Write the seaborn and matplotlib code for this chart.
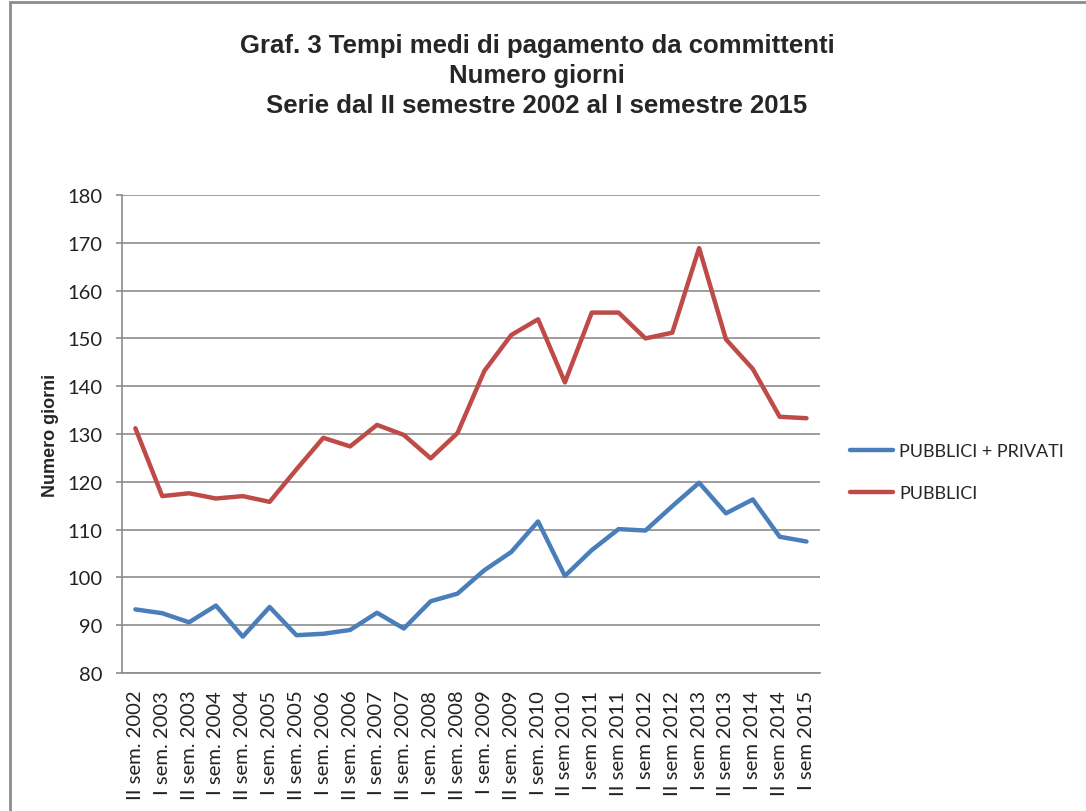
import matplotlib
matplotlib.use("Agg")
import matplotlib.pyplot as plt
import seaborn as sns
import pandas as pd
from matplotlib.patches import Rectangle

# Data
periods = ["II sem. 2002", "I sem. 2003", "II sem. 2003", "I sem. 2004", "II sem. 2004",
           "I sem. 2005", "II sem. 2005", "I sem. 2006", "II sem. 2006", "I sem. 2007",
           "II sem. 2007", "I sem. 2008", "II sem. 2008", "I sem. 2009", "II sem. 2009",
           "I sem. 2010", "II sem 2010", "I sem 2011", "II sem 2011", "I sem 2012",
           "II sem 2012", "I sem 2013", "II sem 2013", "I sem 2014", "II sem 2014",
           "I sem 2015"]
pubblici_privati = [93.3, 92.5, 90.6, 94.1, 87.6, 93.8, 87.9, 88.2, 89.0, 92.6,
                    89.3, 95.0, 96.6, 101.5, 105.3, 111.7, 100.3, 105.7, 110.1, 109.8,
                    114.9, 119.8, 113.4, 116.3, 108.5, 107.5]
pubblici = [131.2, 117.0, 117.6, 116.5, 117.0, 115.8, 122.6, 129.2, 127.4, 131.9,
            129.8, 124.9, 130.2, 143.2, 150.7, 154.0, 140.8, 155.4, 155.4, 150.0,
            151.2, 168.9, 149.8, 143.6, 133.6, 133.3]
series_names = ["PUBBLICI + PRIVATI", "PUBBLICI"]
colors = ["#4A7EBB", "#BE4B48"]

df = pd.DataFrame({
    "periodo": periods * 2,
    "giorni": pubblici_privati + pubblici,
    "serie": [series_names[0]] * len(periods) + [series_names[1]] * len(periods),
})

sns.set_style("white")
plt.rcParams["font.family"] = ["Lato", "DejaVu Sans"]

fig = plt.figure(figsize=(10.86, 8.12), dpi=100)
ax = fig.add_axes([0.1123, 0.170, 0.6427, 0.5886])

sns.lineplot(data=df, x="periodo", y="giorni", hue="serie", palette=colors,
             linewidth=3.2, sort=False, ax=ax)

ax.set_xlim(-0.5, len(periods) - 0.5)
ax.set_ylim(80, 180)
ax.set_yticks(range(80, 181, 10))
ax.yaxis.grid(True, color="#8c8c8c", linewidth=1.2)
ax.xaxis.grid(False)
for side in ["top", "right"]:
    ax.spines[side].set_visible(False)
for side in ["left", "bottom"]:
    ax.spines[side].set_color("#8c8c8c")
    ax.spines[side].set_linewidth(1.2)
ax.tick_params(axis="y", labelsize=14.5, colors="#8c8c8c", labelcolor="#222222",
               length=4, width=1.2, left=True, pad=10)
ax.tick_params(axis="x", labelsize=14.6, rotation=90, labelcolor="#222222",
               length=0, bottom=False, pad=12)
ax.set_xlabel("")
ax.set_ylabel("Numero giorni", fontsize=13, fontweight="bold", labelpad=6,
              family=["Liberation Sans", "DejaVu Sans"])

leg = ax.legend(loc="center left", bbox_to_anchor=(1.02, 0.42), frameon=False,
                fontsize=13, handlelength=2.4, handletextpad=0.3, labelspacing=1.45)
for line in leg.get_lines():
    line.set_linewidth(3.2)

title_lines = ["Graf. 3 Tempi medi di pagamento da committenti",
               "Numero giorni",
               "Serie dal II semestre 2002 al I semestre 2015"]
for i, txt in enumerate(title_lines):
    fig.text(0.4945, 1 - (46 + 30 * i) / 812, txt, ha="center", va="center",
             fontsize=18.5, fontweight="bold",
             family=["Liberation Sans", "DejaVu Sans"])

# outer chart frame
fig.patches.append(Rectangle((10 / 1086, -0.01), 1.0, 1 - 3 / 812 + 0.01,
                             transform=fig.transFigure, fill=False,
                             edgecolor="#8c8c8c", linewidth=2))

fig.savefig("out.png", dpi=100)
